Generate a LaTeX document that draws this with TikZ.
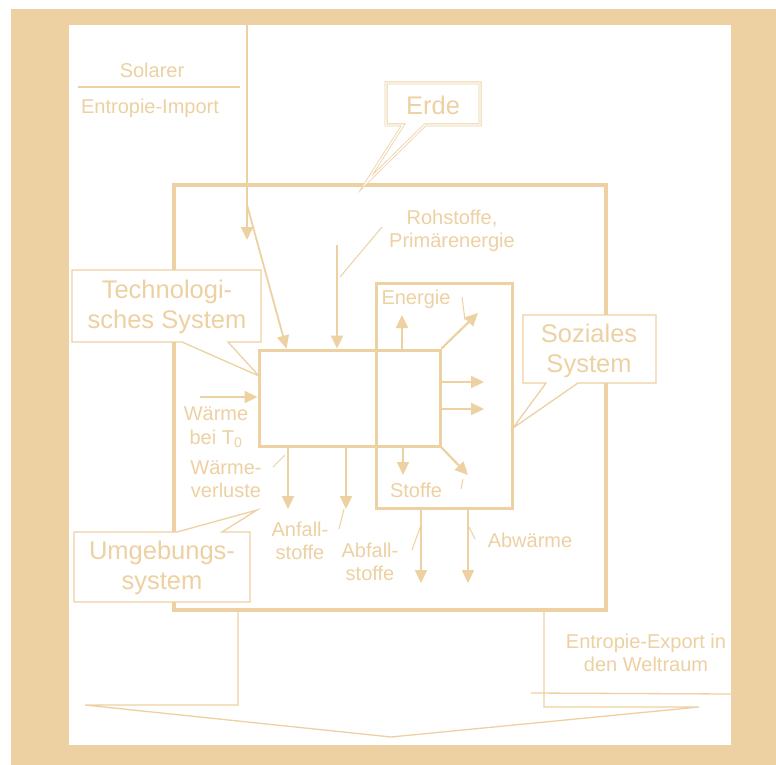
\documentclass[tikz,border=0pt]{standalone}
\usepackage{fontspec}
\setmainfont{Liberation Sans}
\usetikzlibrary{arrows.meta,calc}
\definecolor{sand}{RGB}{237,209,162}
\begin{document}
\begin{tikzpicture}[x=1pt,y=-1pt,
    every node/.style={text=sand,font=\fontsize{20}{23.5}\selectfont,inner sep=0pt,align=center},
    gross/.style={font=\fontsize{25.5}{29.5}\selectfont},
    kasten/.style={draw=sand,line width=3pt},
    pfeil/.style={draw=sand,line width=2.2pt,-{Triangle[length=13pt,width=12pt]}},
    fein/.style={draw=sand,line width=1pt},
    blase/.style={draw=sand,line width=1.3pt,fill=white,line join=miter}]
    \useasboundingbox (0,0) rectangle (776,765);
    % rahmen
    \fill [sand] (11,9) rectangle (776,765);
    \fill [white] (69,25) rectangle (731,745);
    % systeme
    \node [kasten,line width=3.5pt,minimum width=432pt,minimum height=425pt] (erde) at (390,397.5) {};
    \node [kasten,minimum width=136pt,minimum height=225pt] (soz) at (444,395.5) {};
    \node [kasten,minimum width=181pt,minimum height=96pt] (tech) at (349.5,398) {};
    % solarer entropie-import
    \coordinate (sonne) at (247,25);
    \coordinate (s1) at (247,240);
    \coordinate (knick) at (247,205);
    \draw [pfeil,line width=1.8pt] (sonne) -- (s1);
    \draw [pfeil,line width=1.8pt] (knick) -- ($(tech.north west)+(29,0)$);
    \node (sol) at (152,70) {Solarer};
    \node (imp) at (150,108) {Entropie-Import};
    \draw [fein,line width=1.3pt] (78,87) -- (240,87);
    % rohstoffe
    \coordinate (roh) at (337,245);
    \draw [pfeil] (roh) -- (roh |- tech.north);
    \node (rohst) at (452,231) {Rohstoffe,\\Prim\"arenergie};
    \draw [fein] (340,277) -- (382,227);
    % energie
    \coordinate (en1) at (402,315);
    \coordinate (en2) at (478,313);
    \draw [pfeil] (en1 |- tech.north) -- (en1);
    \draw [pfeil] (tech.north east) -- (en2);
    \node (energie) at (416,299) {Energie};
    \draw [fein] (462,297) -- (465,320);
    \coordinate (r1) at (484,382);
    \coordinate (r2) at (484,409);
    \draw [pfeil] (r1 -| tech.east) -- (r1);
    \draw [pfeil] (r2 -| tech.east) -- (r2);
    % stoffe
    \coordinate (st1) at (403,475);
    \coordinate (st2) at (468,475);
    \draw [pfeil] (st1 |- tech.south) -- (st1);
    \draw [pfeil] (tech.south east) -- (st2);
    \node (stoffe) at (416,490) {Stoffe};
    \draw [fein] (463,479) -- (461,489);
    % abfall, abwaerme
    \coordinate (ab1) at (421,583);
    \coordinate (ab2) at (468,583);
    \draw [pfeil] (ab1 |- soz.south) -- (ab1);
    \draw [pfeil] (ab2 |- soz.south) -- (ab2);
    \node (abfall) at (370,562) {Abfall-\\stoffe};
    \draw [fein] (412,550) -- (421,525);
    \node (abw) at (530,540) {Abw\"arme};
    \draw [fein] (469,527) -- (475,539);
    % anfall, waermeverluste
    \coordinate (an1) at (288,509);
    \coordinate (an2) at (346,509);
    \draw [pfeil] (an1 |- tech.south) -- (an1);
    \draw [pfeil] (an2 |- tech.south) -- (an2);
    \node (anfall) at (300,541) {Anfall-\\stoffe};
    \draw [fein] (339,529) -- (344,509);
    \node (verl) at (226,479) {W\"arme-\\verluste};
    \draw [fein] (273,467) -- (285,455);
    % waerme bei T0
    \coordinate (w0) at (200,397);
    \draw [pfeil] (w0) -- (w0 -| tech.west);
    \node (waerme) at (216,427) {W\"arme\\bei T\textsubscript{0}};
    % sprechblasen
    \draw [draw=sand,line width=0.8pt,double=white,double distance=1.4pt,line join=miter]
        (386,83) -- (480,83) -- (480,125) -- (425,125) -- (366,183) -- (403,125) -- (386,125) -- cycle;
    \node [gross] (erdetxt) at (433,105) {Erde};
    \draw [blase] (72,270) -- (261,270) -- (261,342) -- (228,342) -- (259,376) -- (182,342) -- (72,342) -- cycle;
    \node [gross] (techtxt) at (167,307) {Technologi-\\sches System};
    \draw [blase] (523,315) -- (656,315) -- (656,383) -- (578,383) -- (513,428) -- (546,383) -- (523,383) -- cycle;
    \node [gross] (soztxt) at (589,351) {Soziales\\System};
    \draw [blase] (74,532) -- (177,532) -- (257,510) -- (222,532) -- (250,532) -- (250,602) -- (74,602) -- cycle;
    \node [gross] (umgtxt) at (162,568) {Umgebungs-\\system};
    % entropie-export
    \draw [fein,line width=1.3pt,line join=miter] (erde.south -| 238,0) -- (238,705) -- (85,705) -- (391,737) -- (699,707) -- (544,707) -- (erde.south -| 544,0);
    \draw [fein,line width=1.3pt] (531,693) -- (731,694);
    \node (export) at (646,653) {Entropie-Export in\\den Weltraum};
\end{tikzpicture}
\end{document}
